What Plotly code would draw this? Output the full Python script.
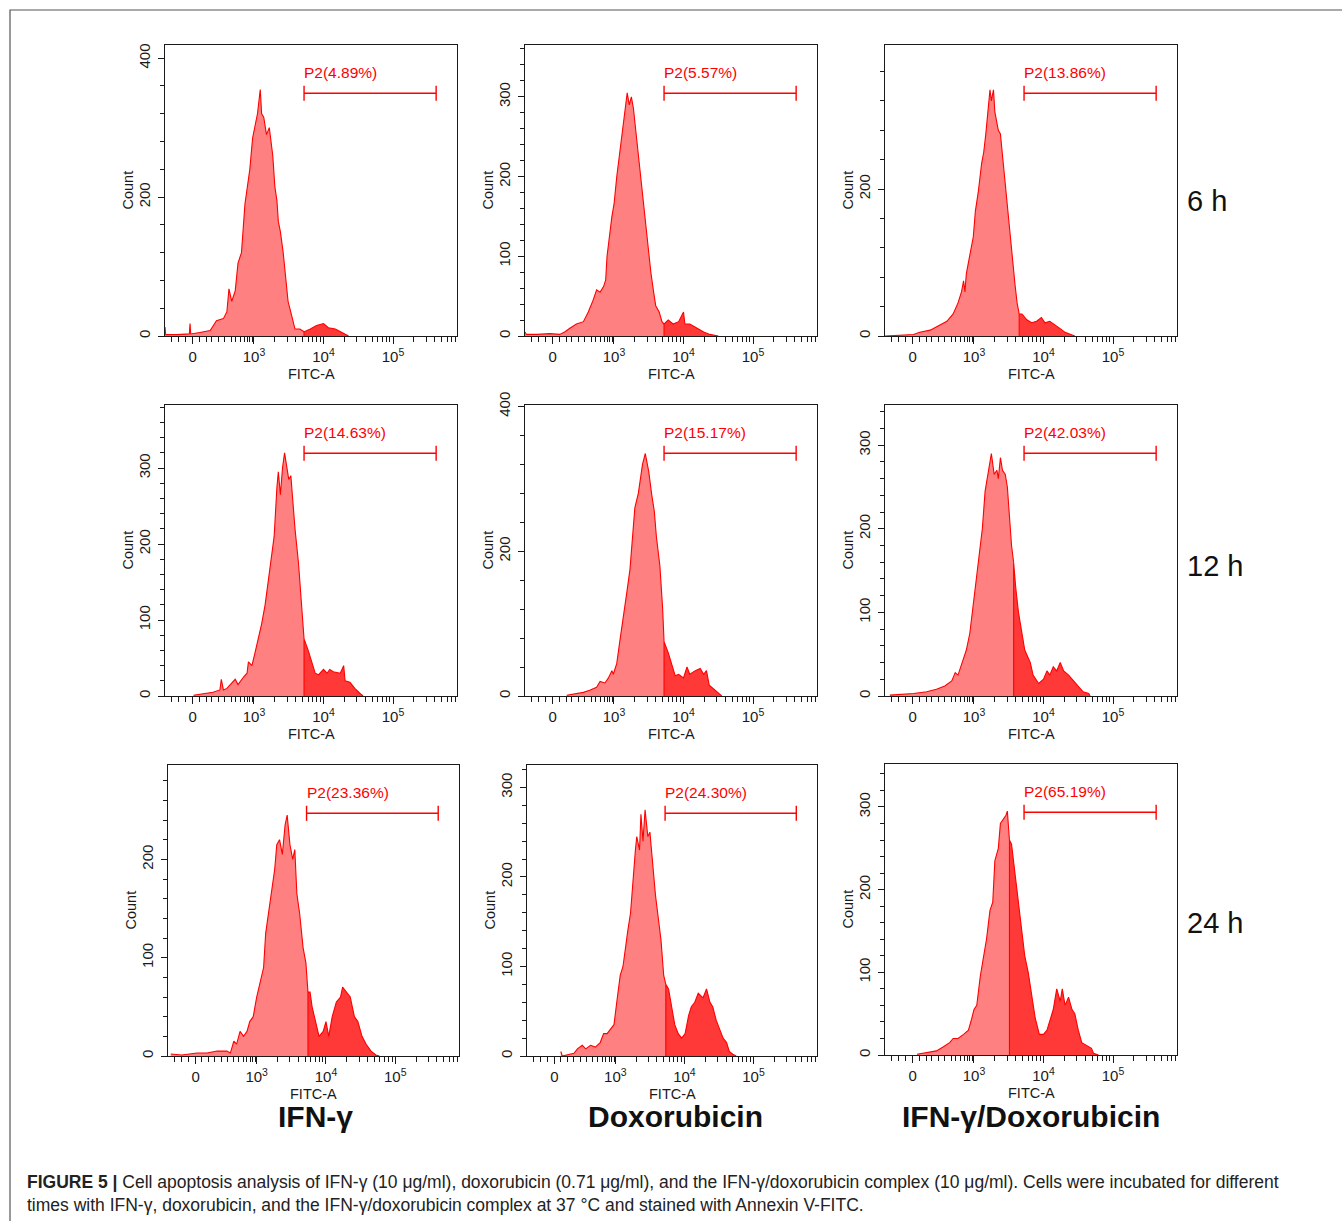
import math
import plotly.graph_objects as go

W, H = 1342, 1221

# ---------------- data (x in display decades of the biexponential FITC-A scale, 10^3 -> 3) -------------
# Row 1 : 6 h
x_6h_ifn = [1.72, 1.73, 1.89, 2.07, 2.08, 2.09, 2.22, 2.37, 2.46, 2.56, 2.61, 2.64, 2.68, 2.73, 2.77, 2.82, 2.87, 2.90,
            2.94, 2.98, 3.01, 3.05, 3.09, 3.11, 3.14, 3.18, 3.22, 3.27, 3.30, 3.33, 3.35, 3.38, 3.42, 3.46, 3.49, 3.54,
            3.59, 3.66, 3.72, 3.81, 3.90, 4.00, 4.07, 4.17, 4.24, 4.31, 4.36]
n_6h_ifn = [13, 2, 2, 3, 18, 3, 5, 8, 22, 25, 35, 68, 50, 65, 105, 120, 190, 215,
            240, 285, 300, 320, 355, 320, 315, 290, 300, 260, 215, 195, 165, 150, 120, 80, 50, 30,
            10, 10, 6, 10, 15, 18, 12, 10, 6, 3, 0]

x_6h_dox = [1.72, 1.74, 1.89, 2.08, 2.22, 2.29, 2.37, 2.46, 2.56, 2.63, 2.70, 2.75, 2.80, 2.85, 2.88, 2.90, 2.97, 3.00,
            3.04, 3.09, 3.13, 3.16, 3.19, 3.22, 3.25, 3.28, 3.31, 3.35, 3.38, 3.42, 3.46, 3.49, 3.53, 3.57, 3.60, 3.65,
            3.69, 3.72, 3.78, 3.85, 3.93, 4.00, 4.02, 4.09, 4.19, 4.29, 4.38, 4.50]
n_6h_dox = [5, 2, 2, 3, 2, 5, 10, 15, 18, 30, 45, 58, 55, 62, 70, 100, 150, 165,
            200, 235, 265, 280, 305, 290, 300, 285, 260, 230, 200, 175, 140, 110, 80, 55, 38, 30,
            18, 15, 20, 15, 18, 30, 15, 15, 10, 5, 2, 0]

x_6h_combo = [1.72, 1.91, 2.13, 2.22, 2.37, 2.51, 2.61, 2.70, 2.77, 2.82, 2.85, 2.87, 2.89, 2.94, 2.99, 3.02, 3.06, 3.11,
              3.14, 3.17, 3.21, 3.23, 3.25, 3.28, 3.30, 3.35, 3.38, 3.41, 3.45, 3.48, 3.52, 3.56, 3.59, 3.62, 3.65, 3.69,
              3.76, 3.83, 3.90, 3.97, 4.02, 4.09, 4.17, 4.24, 4.31, 4.38, 4.45]
n_6h_combo = [0, 1, 2, 5, 8, 15, 20, 30, 45, 60, 75, 60, 85, 110, 135, 170, 195, 235,
              250, 275, 310, 335, 320, 335, 305, 280, 275, 245, 200, 180, 135, 95, 70, 45, 30, 30,
              22, 18, 20, 25, 18, 20, 15, 10, 5, 2, 0]

# Row 2 : 12 h
x_12h_ifn = [2.13, 2.27, 2.41, 2.51, 2.53, 2.56, 2.61, 2.73, 2.77, 2.85, 2.90, 2.92, 2.97, 3.01, 3.06, 3.11, 3.16, 3.21,
             3.25, 3.29, 3.33, 3.35, 3.38, 3.41, 3.44, 3.47, 3.50, 3.53, 3.56, 3.59, 3.64, 3.69, 3.72, 3.78, 3.83, 3.88,
             3.93, 4.00, 4.05, 4.09, 4.14, 4.24, 4.29, 4.31, 4.38, 4.45, 4.53, 4.57]
n_12h_ifn = [1, 3, 5, 8, 22, 8, 10, 22, 15, 25, 30, 45, 40, 55, 75, 95, 120, 155,
             185, 210, 275, 295, 265, 300, 320, 300, 285, 290, 255, 220, 175, 110, 75, 60, 45, 30,
             28, 35, 30, 35, 32, 30, 40, 20, 18, 10, 3, 0]

x_12h_dox = [2.32, 2.46, 2.56, 2.65, 2.75, 2.80, 2.87, 2.92, 2.97, 2.99, 3.04, 3.09, 3.13, 3.18, 3.23, 3.27, 3.30, 3.35,
             3.38, 3.41, 3.45, 3.48, 3.50, 3.54, 3.58, 3.61, 3.66, 3.70, 3.72, 3.78, 3.83, 3.88, 3.93, 4.00, 4.05, 4.09,
             4.17, 4.24, 4.29, 4.33, 4.37, 4.43, 4.50, 4.55]
n_12h_dox = [1, 3, 5, 8, 12, 20, 18, 25, 35, 30, 45, 80, 110, 140, 175, 220, 260, 280,
             300, 320, 335, 320, 310, 280, 255, 220, 180, 120, 75, 60, 45, 28, 30, 25, 40, 30,
             35, 38, 30, 35, 15, 10, 5, 0]

x_12h_combo = [1.79, 1.96, 2.13, 2.32, 2.46, 2.58, 2.68, 2.73, 2.77, 2.85, 2.89, 2.94, 2.99, 3.03, 3.08, 3.12, 3.16, 3.21,
               3.25, 3.29, 3.33, 3.35, 3.38, 3.41, 3.45, 3.48, 3.52, 3.54, 3.57, 3.60, 3.64, 3.69, 3.73, 3.81, 3.85, 3.93,
               4.00, 4.05, 4.09, 4.14, 4.19, 4.24, 4.29, 4.36, 4.43, 4.50, 4.57, 4.65, 4.67]
n_12h_combo = [1, 2, 3, 5, 8, 12, 18, 28, 25, 45, 55, 75, 110, 140, 175, 200, 245, 270,
               290, 265, 270, 260, 285, 270, 265, 250, 200, 180, 160, 130, 100, 75, 55, 40, 25, 15,
               20, 30, 25, 35, 30, 40, 30, 25, 18, 12, 5, 3, 0]

# Row 3 : 24 h
x_24h_ifn = [1.76, 1.92, 2.14, 2.28, 2.43, 2.57, 2.62, 2.67, 2.71, 2.76, 2.81, 2.86, 2.90, 2.95, 3.00, 3.05, 3.10, 3.13,
             3.18, 3.22, 3.26, 3.29, 3.33, 3.37, 3.41, 3.44, 3.48, 3.52, 3.55, 3.58, 3.62, 3.67, 3.71, 3.74, 3.77, 3.80,
             3.85, 3.90, 3.96, 4.00, 4.04, 4.09, 4.15, 4.21, 4.24, 4.30, 4.35, 4.41, 4.46, 4.52, 4.58, 4.65, 4.72, 4.77]
n_24h_ifn = [2, 1, 3, 3, 5, 5, 3, 15, 12, 25, 20, 25, 35, 40, 60, 75, 90, 125,
             150, 175, 190, 215, 220, 205, 235, 245, 215, 200, 210, 165, 145, 110, 95, 65, 65, 50,
             35, 20, 25, 35, 20, 40, 55, 60, 70, 65, 60, 40, 35, 20, 12, 5, 1, 0]

x_24h_dox = [2.21, 2.23, 2.40, 2.45, 2.52, 2.57, 2.64, 2.71, 2.78, 2.83, 2.88, 2.93, 2.98, 3.02, 3.07, 3.11, 3.14, 3.18,
             3.22, 3.25, 3.29, 3.31, 3.35, 3.37, 3.40, 3.43, 3.47, 3.50, 3.54, 3.58, 3.62, 3.66, 3.70, 3.73, 3.77, 3.82,
             3.86, 3.91, 3.96, 4.01, 4.06, 4.10, 4.15, 4.20, 4.27, 4.32, 4.37, 4.41, 4.46, 4.51, 4.56, 4.61, 4.65, 4.70, 4.75]
n_24h_dox = [5, 0, 3, 8, 12, 8, 12, 10, 15, 25, 25, 30, 35, 60, 90, 100, 120, 140,
             160, 195, 230, 245, 230, 270, 240, 275, 245, 250, 215, 180, 155, 130, 90, 80, 75, 50,
             35, 25, 20, 25, 45, 55, 60, 70, 65, 75, 60, 55, 40, 30, 20, 15, 5, 2, 0]

x_24h_combo = [2.18, 2.32, 2.46, 2.56, 2.65, 2.70, 2.77, 2.85, 2.92, 2.97, 3.00, 3.04, 3.09, 3.13, 3.18, 3.23, 3.27, 3.30,
               3.35, 3.38, 3.42, 3.46, 3.48, 3.51, 3.54, 3.59, 3.64, 3.69, 3.73, 3.78, 3.83, 3.88, 3.94, 4.00, 4.05, 4.09,
               4.14, 4.19, 4.24, 4.27, 4.31, 4.36, 4.41, 4.45, 4.50, 4.55, 4.62, 4.69, 4.72, 4.79]
n_24h_combo = [1, 3, 5, 10, 15, 20, 20, 25, 30, 45, 55, 60, 95, 115, 140, 175, 185, 235,
               250, 280, 285, 290, 295, 260, 255, 220, 180, 150, 120, 100, 70, 45, 25, 25, 30, 40,
               55, 80, 65, 80, 60, 70, 55, 50, 30, 15, 12, 8, 2, 0]

# where the darker (gated) fill begins in each histogram
dark_from = [3.72, 3.72, 3.65, 3.72, 3.72, 3.57, 3.74, 3.73, 3.51]
gate_pct = ["4.89", "5.57", "13.86", "14.63", "15.17", "42.03", "23.36", "24.30", "65.19"]
gate_range = [3.72, 5.62]

row_labels = ["6 h", "12 h", "24 h"]
col_labels = ["IFN-γ", "Doxorubicin", "IFN-γ/Doxorubicin"]

x_ticks = [2.118, 3, 4, 5]
x_ticktext = ["0", "10<sup>3</sup>", "10<sup>4</sup>", "10<sup>5</sup>"]

series = [(x_6h_ifn, n_6h_ifn), (x_6h_dox, n_6h_dox), (x_6h_combo, n_6h_combo),
          (x_12h_ifn, n_12h_ifn), (x_12h_dox, n_12h_dox), (x_12h_combo, n_12h_combo),
          (x_24h_ifn, n_24h_ifn), (x_24h_dox, n_24h_dox), (x_24h_combo, n_24h_combo)]

# ---------------- layout / style ----------------
y_top = [419, 365, 396, 383, 402, 348, 296, 325, 352]
y_major = [200, 100, 200, 100, 200, 100, 100, 100, 100]
y_minor = [40, 20, 40, 20, 40, 20, 20, 20, 20]

# panel boxes in pixels: (left, right, top, bottom)
boxes = [(165, 457, 45, 336), (525, 817, 45, 336), (885, 1177, 45, 336),
         (165, 457, 405, 696), (525, 817, 405, 696), (885, 1177, 405, 696),
         (168, 459, 765, 1056), (527, 817, 765, 1056), (885, 1177, 764, 1055)]

X_RANGE = [1.72, 5.92]
minor_x = [1.82, 1.92, 2.01, 2.21, 2.31, 2.39, 2.49, 2.58, 2.67, 2.74, 2.81, 2.86, 2.91, 2.94, 2.98]
minor_x += [math.log10(k * 10 ** d) for d in (3, 4, 5) for k in range(2, 10) if math.log10(k * 10 ** d) < X_RANGE[1]]

LIGHT = "rgb(255,128,128)"
DARK = "rgb(255,56,56)"
RED = "rgb(255,0,0)"
INK = "#1a1a1a"
FONT = "Liberation Sans, Arial, sans-serif"


def px(x):
    return x / W


def py(y):
    return 1 - y / H


fig = go.Figure()
shapes = []
annotations = []

for i, ((xs, ys), (l, r, t, b)) in enumerate(zip(series, boxes)):
    k = i + 1
    xa = "x" if k == 1 else f"x{k}"
    ya = "y" if k == 1 else f"y{k}"
    split = xs.index(dark_from[i])

    # light part
    fig.add_trace(go.Scatter(x=xs[:split + 1], y=ys[:split + 1], xaxis=xa, yaxis=ya, mode="lines",
                             line=dict(color=RED, width=1.1), fill="tozeroy", fillcolor=LIGHT,
                             showlegend=False, hoverinfo="skip"))
    # dark (gated) part
    fig.add_trace(go.Scatter(x=[xs[split]] + xs[split:], y=[0] + ys[split:], xaxis=xa, yaxis=ya, mode="lines",
                             line=dict(color=RED, width=1.1), fill="toself", fillcolor=DARK,
                             showlegend=False, hoverinfo="skip"))

    xkey = "xaxis" if k == 1 else f"xaxis{k}"
    ykey = "yaxis" if k == 1 else f"yaxis{k}"
    fig.layout[xkey] = dict(domain=[px(l), px(r)], anchor=ya, range=X_RANGE, tickmode="array",
                            tickvals=x_ticks, ticktext=x_ticktext, ticks="outside", ticklen=7, tickwidth=1.2,
                            tickcolor=INK, showline=True, mirror=True, linecolor=INK, linewidth=1.4,
                            showgrid=False, zeroline=False, ticklabelstandoff=0, automargin=False,
                            tickfont=dict(family=FONT, size=15, color=INK),
                            minor=dict(tickmode="array", tickvals=minor_x, ticks="outside", ticklen=4.5,
                                       tickwidth=1.1, tickcolor=INK, showgrid=False))
    fig.layout[ykey] = dict(domain=[py(b), py(t)], anchor=xa, range=[0, y_top[i]], tickmode="linear", tick0=0,
                            dtick=y_major[i], ticks="outside", ticklen=6, tickwidth=1.2, tickcolor=INK,
                            showline=True, mirror=True, linecolor=INK, linewidth=1.4, showgrid=False,
                            zeroline=False, tickangle=-90, ticklabelstandoff=2, automargin=False,
                            tickfont=dict(family=FONT, size=15, color=INK),
                            minor=dict(dtick=y_minor[i], ticks="outside", ticklen=3.5, tickwidth=1.1,
                                       tickcolor=INK, showgrid=False))

    # gate bar
    yd = ya + " domain"
    gy = 0.834
    shapes.append(dict(type="line", xref=xa, yref=yd, x0=gate_range[0], x1=gate_range[1], y0=gy, y1=gy,
                       line=dict(color=RED, width=1.4)))
    for gx in gate_range:
        shapes.append(dict(type="line", xref=xa, yref=yd, x0=gx, x1=gx, y0=gy - 0.026, y1=gy + 0.026,
                           line=dict(color=RED, width=1.4)))
    annotations.append(dict(xref=xa, yref=yd, x=gate_range[0], y=0.906, xanchor="left", yanchor="middle",
                            text=f"P2({gate_pct[i]}%)", showarrow=False, xshift=-2,
                            font=dict(family=FONT, size=15.5, color=RED)))
    # axis titles
    annotations.append(dict(xref="paper", yref="paper", x=px((l + r) / 2), y=py(b + 38), xanchor="center",
                            yanchor="middle", text="FITC-A", showarrow=False,
                            font=dict(family=FONT, size=14.5, color=INK)))
    annotations.append(dict(xref="paper", yref="paper", x=px(l - 38), y=py((t + b) / 2), xanchor="center",
                            yanchor="middle", text="Count", textangle=-90, showarrow=False,
                            font=dict(family=FONT, size=14.5, color=INK)))

# row labels
for lab, yc in zip(row_labels, [201, 566, 923]):
    annotations.append(dict(xref="paper", yref="paper", x=px(1185), y=py(yc), xanchor="left", yanchor="middle",
                            text=lab, showarrow=False, font=dict(family=FONT, size=29, color="#111")))
# column labels
for lab, xc in zip(col_labels, [315, 675, 1031]):
    annotations.append(dict(xref="paper", yref="paper", x=px(xc), y=py(1116), xanchor="center", yanchor="middle",
                            text=f"<b>{lab}</b>", showarrow=False, font=dict(family=FONT, size=30, color="#111")))

caption = ("<b>FIGURE 5 |</b> Cell apoptosis analysis of IFN-γ (10 μg/ml), doxorubicin (0.71 μg/ml), and the "
           "IFN-γ/doxorubicin complex (10 μg/ml). Cells were incubated for different<br>times with IFN-γ, "
           "doxorubicin, and the IFN-γ/doxorubicin complex at 37 °C and stained with Annexin V-FITC.")
annotations.append(dict(xref="paper", yref="paper", x=px(25), y=py(1193), xanchor="left", yanchor="middle",
                        align="left", text=caption, showarrow=False,
                        font=dict(family=FONT, size=17.5, color="#222")))

# outer frame
shapes.append(dict(type="rect", xref="paper", yref="paper", x0=px(10), x1=px(W + 5), y0=py(H + 5), y1=py(10),
                   line=dict(color="#555", width=1.2)))

fig.update_layout(width=W, height=H, autosize=False,
                  margin=dict(l=0, r=0, t=0, b=0, pad=0, autoexpand=False),
                  paper_bgcolor="white", plot_bgcolor="white", shapes=shapes, annotations=annotations,
                  showlegend=False)

fig.write_html("out.html")
